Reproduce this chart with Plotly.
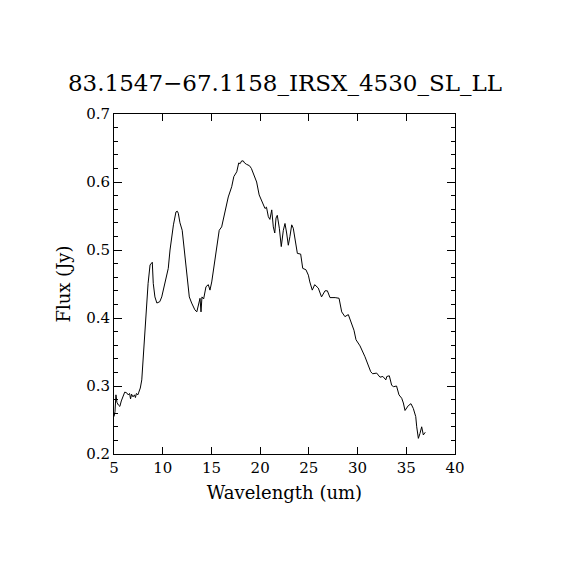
import plotly.graph_objects as go

# spectrum
wavelength = [
    5.0, 5.1, 5.2, 5.3, 5.45, 5.6, 5.75, 5.9, 6.1, 6.3, 6.45, 6.6, 6.7, 6.8, 6.95,
    7.1, 7.2, 7.3, 7.45, 7.55, 7.7, 7.85, 8.0, 8.2, 8.35, 8.5, 8.7, 8.85, 8.93, 9.03,
    9.2, 9.4, 9.55, 9.7, 9.9, 10.2, 10.57, 10.75, 11.1, 11.36, 11.5, 11.6, 11.77, 12.0,
    12.3, 12.53, 12.73, 12.97, 13.15, 13.3, 13.5, 13.65, 13.83, 13.93, 14.03, 14.2,
    14.44, 14.68, 14.85, 15.03, 15.37, 15.8, 16.05, 16.4, 16.73, 17.08, 17.3, 17.6,
    17.8, 17.95, 18.1, 18.27, 18.4, 18.6, 18.9, 19.1, 19.3, 19.64, 19.9, 20.16, 20.5,
    20.65, 20.84, 21.0, 21.19, 21.35, 21.5, 21.63, 21.76, 21.97, 22.17, 22.38, 22.55,
    22.72, 22.89, 23.06, 23.24, 23.4, 23.58, 23.82, 24.16, 24.37, 24.7, 24.95, 25.1,
    25.35, 25.6, 25.97, 26.3, 26.66, 26.9, 27.17, 27.7, 28.1, 28.37, 28.7, 29.05, 29.4,
    29.63, 29.84, 30.25, 30.76, 31.1, 31.35, 31.55, 31.96, 32.3, 32.6, 32.9, 33.0,
    33.26, 33.5, 33.7, 34.0, 34.25, 34.53, 34.7, 34.87, 35.2, 35.48, 35.72, 35.97,
    36.07, 36.24, 36.4, 36.58, 36.75, 36.95,
]
flux = [
    0.255, 0.262, 0.287, 0.276, 0.272, 0.270, 0.278, 0.284, 0.291, 0.290, 0.287, 0.289,
    0.281, 0.288, 0.284, 0.287, 0.283, 0.289, 0.287, 0.291, 0.297, 0.309, 0.343, 0.397,
    0.431, 0.451, 0.478, 0.480, 0.482, 0.451, 0.431, 0.422, 0.423, 0.424, 0.431, 0.451,
    0.473, 0.500, 0.537, 0.556, 0.557, 0.554, 0.540, 0.529, 0.490, 0.451, 0.431, 0.422,
    0.416, 0.412, 0.409, 0.417, 0.429, 0.409, 0.431, 0.428, 0.446, 0.449, 0.441, 0.453,
    0.485, 0.529, 0.534, 0.556, 0.578, 0.593, 0.608, 0.615, 0.628, 0.627, 0.631, 0.631,
    0.628, 0.626, 0.624, 0.620, 0.613, 0.600, 0.581, 0.571, 0.561, 0.563, 0.549, 0.545,
    0.559, 0.534, 0.525, 0.547, 0.551, 0.532, 0.505, 0.529, 0.539, 0.525, 0.507, 0.520,
    0.537, 0.532, 0.515, 0.495, 0.494, 0.473, 0.471, 0.463, 0.453, 0.441, 0.449, 0.444,
    0.431, 0.440, 0.440, 0.430, 0.430, 0.429, 0.409, 0.402, 0.405, 0.390, 0.382, 0.368,
    0.359, 0.343, 0.331, 0.321, 0.318, 0.319, 0.313, 0.314, 0.309, 0.314, 0.315, 0.301,
    0.299, 0.300, 0.287, 0.282, 0.275, 0.264, 0.271, 0.274, 0.267, 0.255, 0.240, 0.223,
    0.230, 0.240, 0.228, 0.232,
]

title = "83.1547\u221267.1158_IRSX_4530_SL_LL"
fontName = "DejaVu Serif"

fig = go.Figure()
fig.add_trace(go.Scatter(
    x=wavelength, y=flux, mode="lines",
    line=dict(color="black", width=1),
    showlegend=False
))

axisStyle = dict(
    showline=True, linecolor="black", linewidth=1, mirror="ticks",
    ticks="inside", tickcolor="black", showgrid=False, zeroline=False,
    tickfont=dict(family=fontName, size=15, color="black"),
)

# page body adds ~8px offset, so margins are shifted to land the frame at 114..455
fig.update_layout(
    width=570, height=570,
    margin=dict(l=106, r=123, t=106, b=124),
    paper_bgcolor="white", plot_bgcolor="white",
    title=dict(text=title, x=0.486, xanchor="center", y=0.868, yanchor="middle",
               font=dict(family=fontName, size=23, color="black")),
    xaxis=dict(range=[5, 40], dtick=5, tick0=5, ticklen=7,
               title=dict(text="Wavelength (um)", standoff=10,
                          font=dict(family=fontName, size=18, color="black")),
               **axisStyle),
    yaxis=dict(range=[0.2, 0.7], dtick=0.1, tick0=0.2, tickformat=".1f", ticklen=8,
               minor=dict(dtick=0.02, ticklen=4, ticks="inside", tickcolor="black"),
               title=dict(text="Flux (Jy)", standoff=10,
                          font=dict(family=fontName, size=18, color="black")),
               **axisStyle),
)

fig.write_html("out.html")
